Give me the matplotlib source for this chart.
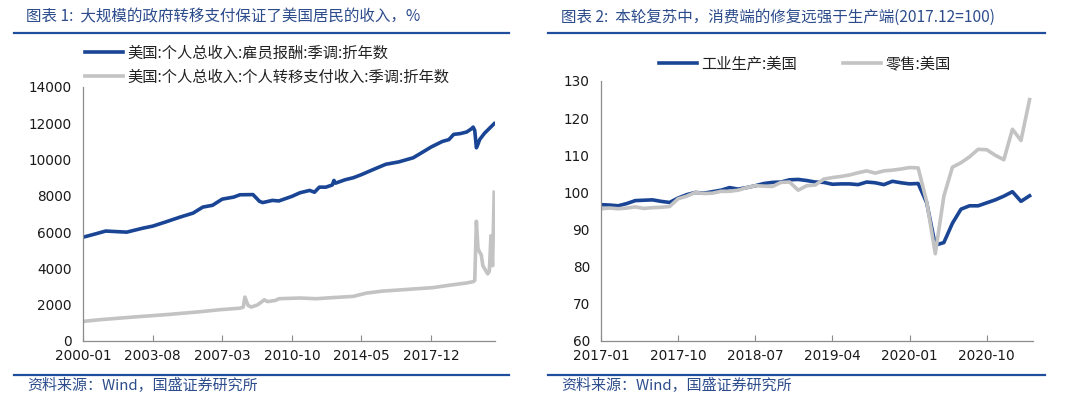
import matplotlib
matplotlib.use("Agg")
import matplotlib.pyplot as plt
from matplotlib.lines import Line2D

CJK = ['Noto Sans CJK SC', 'DejaVu Sans']
BLUE = '#1a4595'
GRAY = '#c3c3c3'
TITLE_BLUE = '#2c4c8c'
RULE_BLUE = '#1f4e9c'

# ---- left chart: US personal income components (SAAR, bn USD)
comp_dates = ['2000-01', '2000-09', '2001-03', '2002-04', '2003-02', '2003-08', '2004-04',
              '2005-01', '2005-09', '2006-03', '2006-09', '2007-03', '2007-10', '2008-02',
              '2008-10', '2009-02', '2009-04', '2009-10', '2010-02', '2010-10', '2011-03',
              '2011-09', '2011-12', '2012-03', '2012-07', '2012-11', '2012-12', '2013-01',
              '2013-07', '2013-12', '2014-05', '2014-12', '2015-08', '2016-04', '2017-01',
              '2017-07', '2017-12', '2018-07', '2018-11', '2019-02', '2019-06', '2019-10',
              '2020-01', '2020-02', '2020-03', '2020-04', '2020-05', '2020-06', '2020-09',
              '2021-03']
comp_vals = [5720, 5910, 6060, 6000, 6220, 6330, 6560,
             6830, 7050, 7380, 7480, 7820, 7930, 8060,
             8070, 7700, 7630, 7750, 7720, 7970, 8170,
             8300, 8200, 8480, 8480, 8600, 8850, 8700,
             8890, 9000, 9170, 9440, 9740, 9870, 10100,
             10420, 10690, 11000, 11100, 11390, 11430, 11520,
             11700, 11790, 11600, 10650, 10850, 11100, 11450,
             11980]

transfer_dates = ['2000-01', '2000-11', '2002-08', '2004-04', '2006-01', '2007-01', '2008-02',
                  '2008-04', '2008-05', '2008-07', '2008-09', '2009-01', '2009-05', '2009-07',
                  '2009-12', '2010-02', '2011-03', '2012-01', '2012-11', '2013-12', '2014-08',
                  '2015-06', '2016-04', '2017-03', '2018-01', '2018-11', '2019-10', '2020-02',
                  '2020-03', '2020-04', '2020-05', '2020-06', '2020-07', '2020-08', '2020-09',
                  '2020-10', '2020-11', '2020-12', '2021-01', '2021-02', '2021-03']
transfer_vals = [1080, 1170, 1320, 1450, 1610, 1720, 1810,
                 1870, 2420, 1960, 1870, 2000, 2270, 2170,
                 2240, 2330, 2370, 2330, 2390, 2460, 2640,
                 2750, 2810, 2880, 2940, 3070, 3200, 3270,
                 3340, 6600, 5100, 4900, 4750, 4150, 4000,
                 3850, 3700, 3850, 5800, 4150, 8200]

left_ticks = ['2000-01', '2003-08', '2007-03', '2010-10', '2014-05', '2017-12']

# ---- right chart: monthly 2017-01 .. 2021-03 (2017.12=100)
ip_vals = [96.7, 96.6, 96.4, 97.0, 97.8, 97.9, 98.0, 97.6, 97.3, 98.5, 99.4, 100.0,
           99.8, 100.2, 100.6, 101.3, 100.9, 101.3, 101.8, 102.4, 102.7, 102.8, 103.4, 103.5,
           103.2, 102.8, 102.7, 102.2, 102.3, 102.3, 102.1, 102.8, 102.6, 102.1, 103.0, 102.6,
           102.3, 102.4, 97.2, 85.8, 86.5, 91.7, 95.5, 96.4, 96.4, 97.2, 98.0, 99.0,
           100.2, 97.6, 99.1]
retail_vals = [95.6, 95.8, 95.6, 95.8, 96.1, 95.7, 95.9, 96.0, 96.2, 98.3, 99.0, 100.0,
               99.7, 99.8, 100.3, 100.3, 100.6, 101.3, 101.8, 101.7, 101.6, 102.7, 102.8, 100.6,
               101.8, 102.0, 103.6, 104.0, 104.3, 104.7, 105.3, 105.8, 105.2, 105.8, 106.0, 106.3,
               106.7, 106.6, 97.5, 83.5, 99.0, 106.8, 108.0, 109.6, 111.6, 111.5, 110.0, 108.8,
               117.0, 114.0, 125.0]
right_ticks = ['2017-01', '2017-10', '2018-07', '2019-04', '2020-01', '2020-10']


def month_index(s, start):
    y, m = map(int, s.split('-'))
    y0, m0 = map(int, start.split('-'))
    return (y - y0) * 12 + (m - m0)


def style_axes(ax):
    for side in ('top', 'right'):
        ax.spines[side].set_visible(False)
    for side in ('left', 'bottom'):
        ax.spines[side].set_color('#8c8c8c')
        ax.spines[side].set_linewidth(0.9)
    ax.tick_params(axis='x', direction='in', length=4, color='#8c8c8c',
                   labelsize=9.8, labelcolor='#1a1a1a', pad=6)
    ax.tick_params(axis='y', length=0, labelsize=9.8, labelcolor='#1a1a1a', pad=8)


fig = plt.figure(figsize=(10.8, 4.05), dpi=100)

# left panel
ax1 = fig.add_axes([83 / 1080, 1 - 341 / 405, 412 / 1080, 254 / 405])
x_comp = [month_index(d, '2000-01') for d in comp_dates]
x_tr = [month_index(d, '2000-01') for d in transfer_dates]
l1, = ax1.plot(x_comp, comp_vals, color=BLUE, lw=2.6, solid_joinstyle='round')
l2, = ax1.plot(x_tr, transfer_vals, color=GRAY, lw=2.6, solid_joinstyle='round')
ax1.set_xlim(0, 254.5)
ax1.set_ylim(0, 14000)
ax1.set_yticks(range(0, 14001, 2000))
ax1.set_xticks([month_index(t, '2000-01') for t in left_ticks])
ax1.set_xticklabels(left_ticks)
style_axes(ax1)
fig.legend([l1, l2], ['美国:个人总收入:雇员报酬:季调:折年数',
                      '美国:个人总收入:个人转移支付收入:季调:折年数'],
           loc='upper left', bbox_to_anchor=(71 / 1080, 1 - 31 / 405), frameon=False,
           prop={'family': CJK, 'size': 11}, handlelength=2.5, handletextpad=0.3,
           labelspacing=0.45, labelcolor='#222222')

# right panel
ax2 = fig.add_axes([601 / 1080, 1 - 341 / 405, 432 / 1080, 260 / 405])
xr = list(range(len(ip_vals)))
r1, = ax2.plot(xr, ip_vals, color=BLUE, lw=2.6, solid_joinstyle='round')
r2, = ax2.plot(xr, retail_vals, color=GRAY, lw=2.6, solid_joinstyle='round')
ax2.set_xlim(0, 50.4)
ax2.set_ylim(60, 130)
ax2.set_yticks(range(60, 131, 10))
ax2.set_xticks([month_index(t, '2017-01') for t in right_ticks])
ax2.set_xticklabels(right_ticks)
style_axes(ax2)
fig.legend([r1, r2], ['工业生产:美国', '零售:美国'], ncol=2,
           loc='upper left', bbox_to_anchor=(645 / 1080, 1 - 42 / 405), frameon=False,
           prop={'family': CJK, 'size': 11}, handlelength=2.5, handletextpad=0.3,
           columnspacing=3.0, labelcolor='#222222')

# titles, rules, sources
fig.text(26 / 1080, 1 - 17 / 405, '图表 1:  大规模的政府转移支付保证了美国居民的收入，%',
         family=CJK, size=11.2, style='italic', color=TITLE_BLUE, va='center')
fig.text(561 / 1080, 1 - 17 / 405, '图表 2:  本轮复苏中，消费端的修复远强于生产端(2017.12=100)',
         family=CJK, size=11.2, style='italic', color=TITLE_BLUE, va='center')
for x0, x1 in ((14, 509), (548, 1045)):
    fig.add_artist(Line2D([x0 / 1080, x1 / 1080], [1 - 33 / 405] * 2,
                          color=RULE_BLUE, lw=1.6))
    fig.add_artist(Line2D([x0 / 1080, x1 / 1080], [1 - 375 / 405] * 2,
                          color=RULE_BLUE, lw=1.6))
fig.text(27 / 1080, 1 - 386 / 405, '资料来源：Wind，国盛证券研究所',
         family=CJK, size=10.8, style='italic', color=TITLE_BLUE, va='center')
fig.text(561 / 1080, 1 - 386 / 405, '资料来源：Wind，国盛证券研究所',
         family=CJK, size=10.8, style='italic', color=TITLE_BLUE, va='center')

fig.savefig('out.png', dpi=100)
